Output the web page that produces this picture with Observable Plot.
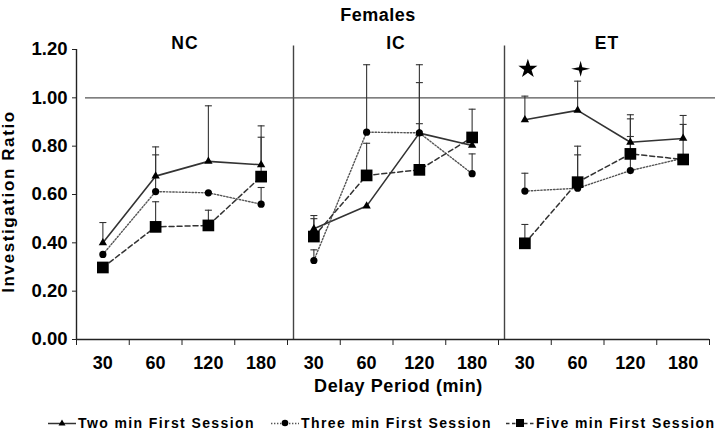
<!DOCTYPE html>
<html><head><meta charset="utf-8">
<script src="https://cdn.jsdelivr.net/npm/d3@7"></script>
<script src="https://cdn.jsdelivr.net/npm/@observablehq/plot@0.6"></script>
<style>
body{margin:0;background:#fff;font-family:"Liberation Sans",Arial,sans-serif;}
#wrap{width:720px;height:430px;position:relative;overflow:hidden;background:#fff}
#wrap svg.plot{display:block}
.item{position:absolute;top:415px;height:16px;display:flex;align-items:center;font-weight:bold;font-size:14px;letter-spacing:1.4px;line-height:16px;white-space:nowrap;color:#000}
.item svg{margin-right:2px;flex:none}
</style></head><body><div id="wrap"></div>
<script>
// ---- data ----
const panels = ["NC", "IC", "ET"];
const delays = ["30", "60", "120", "180"];
const seriesNames = ["Two min First Session", "Three min First Session", "Five min First Session"];
// values per panel (NC 30..180, IC 30..180, ET 30..180)
const twoMin   = [0.40, 0.676, 0.737, 0.723,  0.458, 0.552, 0.854, 0.803,  0.909, 0.948, 0.816, 0.832];
const threeMin = [0.352, 0.612, 0.607, 0.560, 0.327, 0.858, 0.855, 0.686,  0.614, 0.626, 0.699, 0.750];
const fiveMin  = [0.298, 0.466, 0.472, 0.674, 0.426, 0.679, 0.702, 0.836,  0.398, 0.651, 0.768, 0.745];
// upper ends of the error bars (null = not visible)
const twoMinErr   = [0.484, 0.797, 0.967, 0.884, 0.513, null, 1.137, null,  1.007, 1.069, 0.930, 0.927];
const threeMinErr = [null, 0.764, null, 0.629,  0.371, 1.137, 1.063, 0.768, 0.688, 0.764, 0.840, null];
const fiveMinErr  = [null, 0.570, 0.535, 0.837, 0.500, 0.812, 0.893, 0.953, 0.476, 0.800, 0.913, 0.890];
const yTicks = [0, 0.2, 0.4, 0.6, 0.8, 1.0, 1.2];
const referenceLevel = [1.0];
const panelBounds = [4, 8];
const significance = [
  {panel: "ET", delay: "30", y: 1.12, kind: "star"},
  {panel: "ET", delay: "60", y: 1.12, kind: "four"}
];

// ---- build table ----
const values = [twoMin, threeMin, fiveMin];
const errors = [twoMinErr, threeMinErr, fiveMinErr];
const rows = [];
seriesNames.forEach((name, s) => {
  values[s].forEach((v, i) => rows.push({
    series: name, panel: panels[Math.floor(i / 4)], delay: delays[i % 4],
    x: i + 0.5, y: v, err: errors[s][i]
  }));
});
const errRows = rows.filter(d => d.err != null);
const posOf = (panel, delay) => panels.indexOf(panel) * 4 + delays.indexOf(delay) + 0.5;
const centers = d3.range(12).map(i => i + 0.5);

const capSymbol = {draw(ctx) { ctx.moveTo(-3.5, 0); ctx.lineTo(3.5, 0); }};
const fourStar = {draw(ctx) {
  const w = 9.5, h = 8, k = 1.7;
  ctx.moveTo(0, -h); ctx.lineTo(k, -k); ctx.lineTo(w, 0); ctx.lineTo(k, k);
  ctx.lineTo(0, h); ctx.lineTo(-k, k); ctx.lineTo(-w, 0); ctx.lineTo(-k, -k); ctx.closePath();
}};

const styles = [
  {stroke: "#333", strokeWidth: 1.6, dash: null, symbol: "triangle", r: 3.1},
  {stroke: "#555", strokeWidth: 1.4, dash: "1.4,1.8", symbol: "circle", r: 3.6},
  {stroke: "#333", strokeWidth: 1.5, dash: "5,3", symbol: "square", r: 6.6}
];

const lineMarks = seriesNames.map((name, s) => Plot.line(rows.filter(d => d.series === name), {
  x: "x", y: "y", z: "panel", stroke: styles[s].stroke, strokeWidth: styles[s].strokeWidth,
  strokeDasharray: styles[s].dash
}));
const dotMarks = seriesNames.map((name, s) => Plot.dot(rows.filter(d => d.series === name), {
  x: "x", y: "y", symbol: () => styles[s].symbol, r: styles[s].r, fill: "#000", stroke: "none"
}));

const chart = Plot.plot({
  width: 720, height: 405,
  marginLeft: 76, marginRight: 11, marginTop: 49, marginBottom: 66,
  style: {fontFamily: "Liberation Sans, Arial, sans-serif", fontWeight: "bold", color: "#000", background: "white", overflow: "visible"},
  x: {domain: [0, 12], axis: null},
  y: {domain: [0, 1.2], axis: null},
  symbol: {type: "identity"},
  marks: [
    Plot.ruleX(panelBounds, {dx: 6, y1: 0, y2: 1.215, stroke: "#444", strokeWidth: 1.4}),
    Plot.ruleY(referenceLevel, {stroke: "#555", strokeWidth: 1.3, insetLeft: 9, insetRight: -6}),
    Plot.ruleX(errRows, {x: "x", y1: "y", y2: "err", stroke: "#333", strokeWidth: 1.1}),
    Plot.dot(errRows, {x: "x", y: "err", symbol: () => capSymbol, fill: "none", stroke: "#333", strokeWidth: 1.1}),
    ...lineMarks,
    ...dotMarks,
    Plot.dot(significance, {x: d => posOf(d.panel, d.delay), y: "y", dx: 3,
      symbol: d => d.kind === "star" ? "star" : fourStar, r: 6, fill: "#000", stroke: "none"}),
    Plot.ruleY([0], {stroke: "#222", strokeWidth: 1.4}),
    Plot.ruleX([0], {stroke: "#222", strokeWidth: 1.4}),
    Plot.axisY({ticks: yTicks, tickFormat: d => d.toFixed(2), tickSize: 4, tickPadding: 5, fontSize: 18.5, label: null, stroke: "#222"}),
    Plot.axisX({ticks: d3.range(13), tickSize: 6, tickFormat: () => "", label: null, stroke: "#222"}),
    Plot.axisX({ticks: centers, tickSize: 0, tickPadding: 17, tickFormat: d => delays[Math.floor(d) % 4], fontSize: 18, label: null}),
    Plot.text(panels, {x: (d, i) => i * 4 + 2, frameAnchor: "top", dy: -13, dx: 3, fontSize: 17.5, text: d => d}),
    Plot.text(["Females"], {frameAnchor: "top", dx: -15, dy: -41, fontSize: 18, text: d => d}),
    Plot.text(["Delay Period (min)"], {frameAnchor: "bottom", dx: 5.5, dy: 52, fontSize: 18, text: d => d}),
    Plot.text(["Investigation Ratio"], {frameAnchor: "left", textAnchor: "middle", dx: -68, dy: 7, rotate: -90, fontSize: 17, text: d => d})
  ]
});
chart.classList.add("plot");
d3.select(chart).selectAll("text").each(function() {
  const t = this.textContent;
  if (t === "Investigation Ratio") this.setAttribute("letter-spacing", "1.6");
  else if (t === "Delay Period (min)") this.setAttribute("letter-spacing", "0.6");
  else if (panels.includes(t)) this.setAttribute("letter-spacing", "1");
  else if (t === "Females") this.setAttribute("letter-spacing", "0.5");
});
const wrap = document.getElementById("wrap");
wrap.appendChild(chart);

// ---- legend ----
const legendLeft = [48, 271, 506];
seriesNames.forEach((name, s) => {
  const st = styles[s];
  const item = document.createElement("div");
  item.className = "item";
  item.style.left = legendLeft[s] + "px";
  let marker;
  if (st.symbol === "triangle") marker = '<path d="M14,4.5 L17.5,10.5 L10.5,10.5 Z" fill="#000"/>';
  else if (st.symbol === "circle") marker = '<circle cx="14" cy="8" r="3.3" fill="#000"/>';
  else marker = '<rect x="10" y="4" width="8" height="8" fill="#000"/>';
  item.innerHTML = `<svg width="28" height="16"><line x1="0" x2="28" y1="8.5" y2="8.5" stroke="${st.stroke}" stroke-width="1.5" ${st.dash ? `stroke-dasharray="${s === 1 ? '1.4,1.6' : '3.5,2.5'}"` : ""}/>${marker}</svg><span>${name}</span>`;
  wrap.appendChild(item);
});
</script></body></html>
